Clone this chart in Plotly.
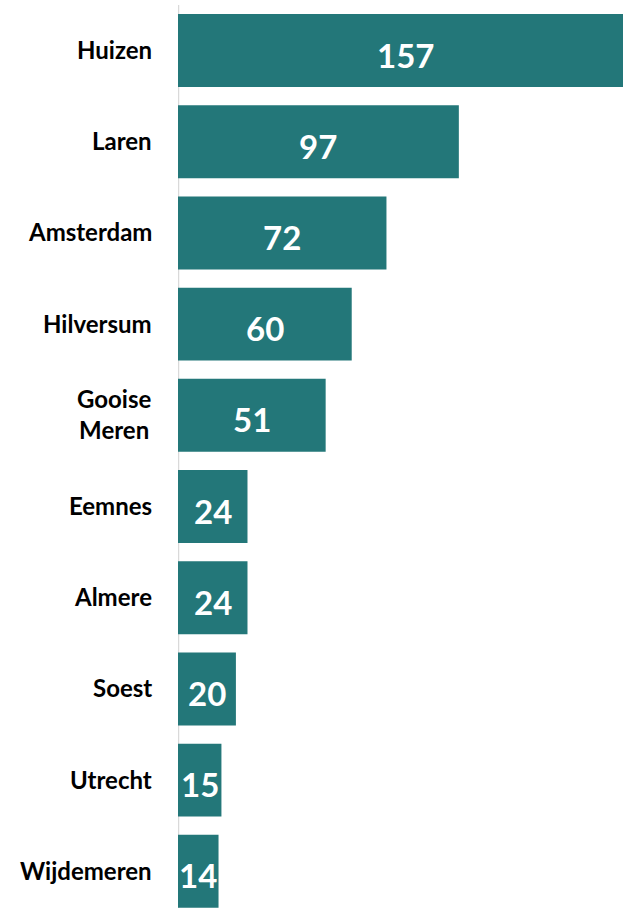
import plotly.graph_objects as go

categories = ["Huizen", "Laren", "Amsterdam", "Hilversum", "Gooise<br>Meren",
              "Eemnes", "Almere", "Soest", "Utrecht", "Wijdemeren"]
values = [157, 97, 72, 60, 51, 24, 24, 20, 15, 14]

BAR = "#237779"
pos = list(range(len(categories)))

fig = go.Figure()
fig.add_trace(go.Bar(
    x=values, y=pos, orientation="h", marker=dict(color=BAR, line=dict(width=0)),
    width=0.8, hoverinfo="skip",
))

for p, v in zip(pos, values):
    fig.add_annotation(
        xref="x", x=v / 2, yref="y", y=p, text=str(v), showarrow=False,
        xanchor="center", yanchor="middle", yshift=-4,
        font=dict(family="Lato", size=33, color="white", weight="bold"),
    )

for p, c in zip(pos, categories):
    fig.add_annotation(
        xref="paper", x=0, yref="y", y=p, text=c, showarrow=False,
        xanchor="right", xshift=-24, yshift=1, align="center",
        font=dict(family="Lato", size=24, color="black", weight="bold"),
    )

fig.add_shape(type="line", xref="x", yref="y", x0=0, x1=0, y0=-0.5, y1=9.9,
              line=dict(color="#d9d9d9", width=2.5), layer="below")

fig.update_layout(
    width=623, height=908, showlegend=False,
    margin=dict(l=178, r=0, t=0, b=0),
    plot_bgcolor="white", paper_bgcolor="white",
    xaxis=dict(range=[0, 153.7], visible=False, fixedrange=True),
    yaxis=dict(range=[9.402, -0.554], visible=False, fixedrange=True),
)

fig.write_html("out.html", config={"displayModeBar": False},
               post_script="document.body.style.margin='0';document.body.style.overflow='hidden';")
